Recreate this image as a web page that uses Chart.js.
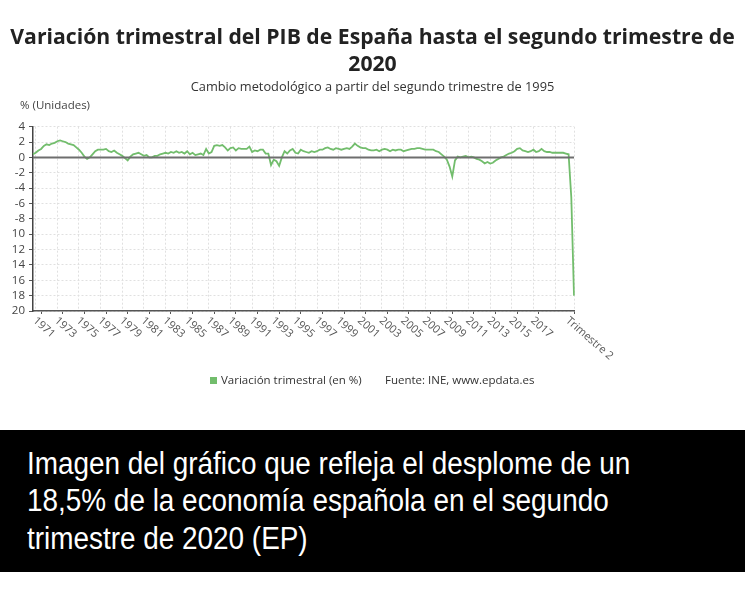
<!DOCTYPE html>
<html>
<head>
<meta charset="utf-8">
<script src="https://cdn.jsdelivr.net/npm/chart.js@4.4.0/dist/chart.umd.min.js"></script>
<style>
  body { margin: 0; background: #fff; width: 745px; height: 590px; overflow: hidden; position: relative; }
  #grafico { position: absolute; left: 0; top: 0; }
  #caja { position: absolute; left: 0; top: 430px; width: 745px; height: 142px; background: #000; }
  #caja div { position: absolute; left: 27px; color: #fff; font-family: "Liberation Sans", Arial, sans-serif;
              font-size: 31px; line-height: 31px; transform: scaleX(0.9); transform-origin: left top; white-space: nowrap; }
</style>
</head>
<body>
<canvas id="grafico" width="745" height="430"></canvas>
<div id="caja">
  <div style="top:18px">Imagen del gráfico que refleja el desplome de un</div>
  <div style="top:55px">18,5% de la economía española en el segundo</div>
  <div style="top:93px">trimestre de 2020 (EP)</div>
</div>
<script>
// variación trimestral del PIB (%), desde 1970 T2 hasta 2020 T2
const variacion = [
  0.4, 0.6, 0.9,            // 1970
  1.1, 1.5, 1.7, 1.6,       // 1971
  1.8, 1.9, 2.1, 2.2,       // 1972
  2.1, 2.0, 1.8, 1.7,       // 1973
  1.6, 1.3, 1.0, 0.6,       // 1974
  0.1, -0.2, 0.0, 0.4,      // 1975
  0.8, 1.0, 1.0, 1.0,       // 1976
  1.1, 0.8, 0.7, 0.9,       // 1977
  0.6, 0.4, 0.2, -0.1,      // 1978
  -0.4, 0.1, 0.4, 0.5,      // 1979
  0.6, 0.4, 0.2, 0.3,       // 1980
  0.0, 0.0, 0.2, 0.2,       // 1981
  0.4, 0.5, 0.6, 0.5,       // 1982
  0.7, 0.6, 0.8, 0.6,       // 1983
  0.7, 0.5, 0.8, 0.4,       // 1984
  0.6, 0.3, 0.4, 0.5,       // 1985
  0.3, 1.1, 0.5, 0.7,       // 1986
  1.5, 1.6, 1.5, 1.6,       // 1987
  1.3, 0.9, 1.2, 1.3,       // 1988
  0.9, 1.2, 1.1, 1.1,       // 1989
  1.1, 1.4, 0.7, 0.9,       // 1990
  0.8, 1.0, 1.0, 0.5,       // 1991
  0.5, -1.0, -0.3, -0.5,    // 1992
  -1.1, 0.0, 0.8, 0.5,      // 1993
  0.9, 1.1, 0.6, 0.5,       // 1994
  1.0, 0.8, 0.7, 0.6,       // 1995
  0.8, 0.7, 0.8, 1.0,       // 1996
  1.0, 1.2, 1.3, 1.1,       // 1997
  1.0, 1.2, 1.1, 1.0,       // 1998
  1.1, 1.2, 1.1, 1.4,       // 1999
  1.8, 1.5, 1.3, 1.2,       // 2000
  1.2, 1.0, 0.9, 0.9,       // 2001
  1.0, 0.8, 1.0, 1.1,       // 2002
  1.0, 0.8, 1.0, 0.9,       // 2003
  1.0, 1.0, 0.8, 0.9,       // 2004
  1.0, 1.1, 1.1, 1.2,       // 2005
  1.2, 1.1, 1.0, 1.0,       // 2006
  1.0, 1.0, 0.8, 0.7,       // 2007
  0.4, 0.1, -0.3, -1.2,     // 2008
  -2.5, -0.4, 0.1, 0.0,     // 2009
  0.1, 0.2, 0.0, 0.1,       // 2010
  0.0, -0.2, -0.3, -0.5,    // 2011
  -0.8, -0.6, -0.8, -0.7,   // 2012
  -0.4, -0.2, 0.0, 0.1,     // 2013
  0.3, 0.5, 0.6, 0.8,       // 2014
  1.1, 1.2, 0.9, 0.8,       // 2015
  0.7, 0.8, 1.0, 0.7,       // 2016
  0.8, 1.1, 0.8, 0.7,       // 2017
  0.7, 0.6, 0.6, 0.6,       // 2018
  0.6, 0.6, 0.5, 0.4,       // 2019
  -5.2, -18.0               // 2020
]

const xTickYears = [1971, 1973, 1975, 1977, 1979, 1981, 1983, 1985, 1987, 1989, 1991, 1993,
  1995, 1997, 1999, 2001, 2003, 2005, 2007, 2009, 2011, 2013, 2015, 2017]
const lastTickLabel = 'Trimestre 2'

const yTickValues = [4, 2, 0, -2, -4, -6, -8, -10, -12, -14, -16, -18, -20]
const yTickLabels = ['4', '2', '0', '-2', '-4', '-6', '-8', '10', '12', '14', '16', '18', '20']

const titulo = ['Variación trimestral del PIB de España hasta el segundo trimestre de', '2020']
const subtitulo = 'Cambio metodológico a partir del segundo trimestre de 1995'
const unidades = '% (Unidades)'
const serieNombre = 'Variación trimestral (en %)'
const fuente = 'Fuente: INE, www.epdata.es'

// etiquetas de categoría: "1970 T2", "1970 T3", ...
const trimestres = variacion.map((v, i) => {
  const q = 1 + i
  return (1970 + Math.floor(q / 4)) + ' T' + (q % 4 + 1)
})

const verde = '#72bd6c'
const gris = '#e0e0e0'
const last = trimestres.length - 1
const tickIdx = xTickYears.map(y => trimestres.indexOf(y + ' T1')).concat([last])

const decor = {
  id: 'decor',
  afterDatasetsDraw(chart) {
    const { ctx, scales: { y }, chartArea: a } = chart
    const y0 = y.getPixelForValue(0)
    ctx.save()
    ctx.strokeStyle = '#6e6e6e'
    ctx.lineWidth = 2
    ctx.beginPath()
    ctx.moveTo(a.left, y0)
    ctx.lineTo(a.right, y0)
    ctx.stroke()
    ctx.restore()
  },
  afterDraw(chart) {
    const { ctx, scales: { x }, chartArea: a } = chart
    ctx.save()
    ctx.font = '11px "Open Sans"'
    ctx.fillStyle = '#555'
    ctx.textAlign = 'left'
    ctx.textBaseline = 'top'
    const draw = (px, t) => {
      ctx.save()
      ctx.translate(px - 3, a.bottom + 4)
      ctx.rotate(0.72)
      ctx.fillText(t, 0, 0)
      ctx.restore()
    }
    xTickYears.forEach(yr => draw(x.getPixelForValue(trimestres.indexOf(yr + ' T1')), String(yr)))
    draw(x.getPixelForValue(last), lastTickLabel)

    // unidades
    ctx.font = '11.5px "Open Sans"'
    ctx.fillStyle = '#444'
    ctx.textBaseline = 'middle'
    ctx.fillText(unidades, 20, 106)

    // leyenda y fuente
    ctx.fillStyle = verde
    ctx.fillRect(210, 377, 7, 7)
    ctx.font = '11.5px "Open Sans"'
    ctx.fillStyle = '#333'
    ctx.fillText(serieNombre, 221, 381)
    ctx.fillText(fuente, 385, 381)
    ctx.restore()
  }
}

new Chart('grafico', {
  type: 'line',
  data: {
    labels: trimestres,
    datasets: [{
      label: serieNombre,
      data: variacion,
      borderColor: verde,
      borderWidth: 1.8,
      pointRadius: 0,
      tension: 0,
      fill: false
    }]
  },
  options: {
    responsive: false,
    animation: false,
    layout: { padding: 0 },
    plugins: {
      legend: { display: false },
      tooltip: { enabled: false },
      title: {
        display: true,
        text: titulo,
        color: '#222',
        font: { family: 'Open Sans', size: 21.2, weight: 'bold', lineHeight: 1.25 },
        padding: { top: 25, bottom: 1 }
      },
      subtitle: {
        display: true,
        text: subtitulo,
        color: '#333',
        font: { family: 'Open Sans', size: 12.8, lineHeight: 1.2 },
        padding: { top: 0.3, bottom: 32 }
      }
    },
    scales: {
      x: {
        type: 'category',
        ticks: { display: false, autoSkip: false },
        grid: {
          color: c => ((c.index - 9) % 8 === 0 || c.index === last) ? gris : 'rgba(0,0,0,0)',
          tickColor: c => tickIdx.includes(c.index) ? '#555' : 'rgba(0,0,0,0)',
          tickLength: 3
        },
        border: { color: '#555', width: 1.5, dash: [2, 2] },
        afterFit: s => { s.height = 119 }
      },
      y: {
        min: -20,
        max: 4,
        ticks: {
          stepSize: 2,
          autoSkip: false,
          color: '#444',
          font: { family: 'Open Sans', size: 11.5 },
          padding: 4,
          callback: v => yTickLabels[yTickValues.indexOf(v)]
        },
        grid: { color: gris, tickColor: '#555', tickLength: 4 },
        border: { color: '#444', width: 1.5, dash: [2, 2] },
        afterFit: s => { s.width = 33 }
      },
      // espacio en blanco a la derecha del gráfico
      derecha: {
        type: 'linear',
        position: 'right',
        display: true,
        ticks: { display: false },
        grid: { display: false },
        border: { display: false },
        afterFit: s => { s.width = 171 }
      }
    }
  },
  plugins: [decor]
})
</script>
</body>
</html>
